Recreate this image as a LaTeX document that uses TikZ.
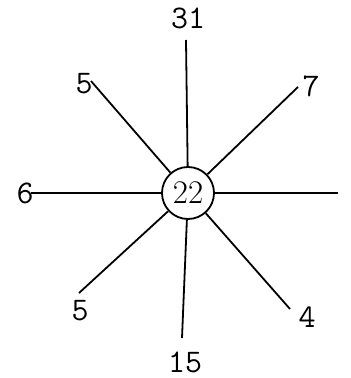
\documentclass[tikz,border=0pt]{standalone}
\usepackage{fontspec}
\begin{document}
\begin{tikzpicture}[x=1pt,y=-1pt,
  spoke/.style={line width=1.8pt},
  lab/.style={font=\fontsize{33}{36}\selectfont\ttfamily, inner sep=0pt},
  hub/.style={circle, draw, line width=1.8pt, minimum size=52pt, inner sep=0pt, font=\fontsize{33}{36}\selectfont}]
\useasboundingbox (0,0) rectangle (351,378);
\node[hub] (c) at (188,193) {22};
\coordinate (eT) at (186,40);
\coordinate (eB) at (182,338);
\coordinate (eL) at (31,193);
\coordinate (eR) at (338,193);
\coordinate (eUL) at (91,81);
\coordinate (eUR) at (298,87);
\coordinate (eLL) at (79,293);
\coordinate (eLR) at (290,309);
\node[lab] (lT) at (188,18) {31};
\node[lab] (lUR) at (311,86) {7};
\node[lab] (lUL) at (84,84) {5};
\node[lab] (lL) at (25,193) {6};
\node[lab] (lLL) at (80,311) {5};
\node[lab] (lLR) at (307,317) {4};
\node[lab] (lB) at (185,362) {15};
\foreach \e in {eT,eB,eL,eR,eUL,eUR,eLL,eLR} \draw[spoke] (c) -- (\e);
\end{tikzpicture}
\end{document}
